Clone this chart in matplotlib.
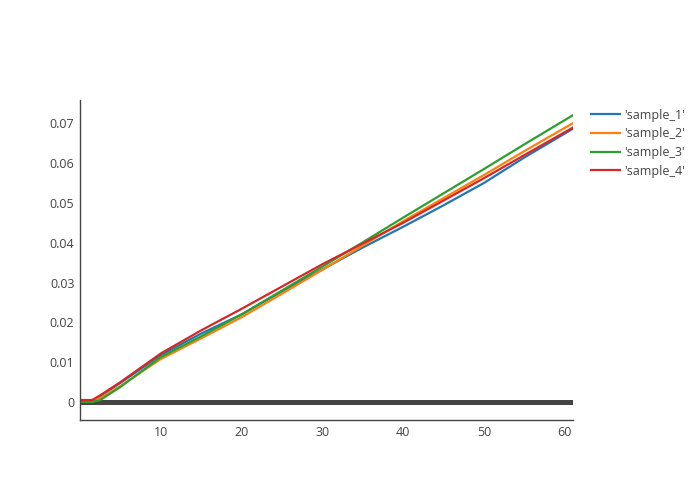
import matplotlib
matplotlib.use("Agg")
import matplotlib.pyplot as plt

plt.rcParams['font.family'] = ['Open Sans', 'DejaVu Sans']

x = [0, 1.5, 2.5, 5, 10, 15, 20, 25, 30, 35, 40, 45, 50, 55, 61]
sample_1 = [0.0000, 0.0003, 0.0015, 0.0048, 0.0118, 0.0172, 0.0220, 0.0278, 0.0333,
            0.0388, 0.0440, 0.0494, 0.0550, 0.0614, 0.0686]
sample_2 = [0.0005, 0.0005, 0.0010, 0.0040, 0.0108, 0.0160, 0.0213, 0.0272, 0.0332,
            0.0393, 0.0454, 0.0512, 0.0570, 0.0630, 0.0700]
sample_3 = [0.0000, 0.0000, 0.0005, 0.0038, 0.0113, 0.0165, 0.0220, 0.0280, 0.0340,
            0.0401, 0.0463, 0.0524, 0.0585, 0.0647, 0.0720]
sample_4 = [0.0005, 0.0005, 0.0017, 0.0050, 0.0122, 0.0180, 0.0234, 0.0290, 0.0346,
            0.0398, 0.0450, 0.0506, 0.0562, 0.0620, 0.0689]
names = ["'sample_1'", "'sample_2'", "'sample_3'", "'sample_4'"]
series = [sample_1, sample_2, sample_3, sample_4]
colors = ['#1f77b4', '#ff7f0e', '#2ca02c', '#d62728']

xticks = [10, 20, 30, 40, 50, 60]
yticks = [0, 0.01, 0.02, 0.03, 0.04, 0.05, 0.06, 0.07]
ytick_labels = ['0', '0.01', '0.02', '0.03', '0.04', '0.05', '0.06', '0.07']

fig = plt.figure(figsize=(7, 5), dpi=100)
ax = fig.add_axes([80/700, 80/500, 493/700, 320/500])

ax.axhline(0, color='#444444', lw=3.6, zorder=1)
for ys, name, c in zip(series, names, colors):
    ax.plot(x, ys, color=c, lw=1.6, label=name, zorder=2)

ax.set_xlim(0, 61)
ax.set_ylim(-0.0045, 0.0758)
ax.set_xticks(xticks)
ax.set_yticks(yticks)
ax.set_yticklabels(ytick_labels)
ax.tick_params(length=0, labelsize=9, labelcolor='#444444', pad=4)
for s in ['top', 'right']:
    ax.spines[s].set_visible(False)
for s in ['left', 'bottom']:
    ax.spines[s].set_color('#444444')
    ax.spines[s].set_linewidth(1)

leg = ax.legend(loc='upper left', bbox_to_anchor=(1.026, 0.988), frameon=False,
                fontsize=9, handlelength=2.3, handletextpad=0.4, labelspacing=0.45,
                borderaxespad=0)
for t in leg.get_texts():
    t.set_color('#444444')

fig.savefig('out.png', dpi=100)
